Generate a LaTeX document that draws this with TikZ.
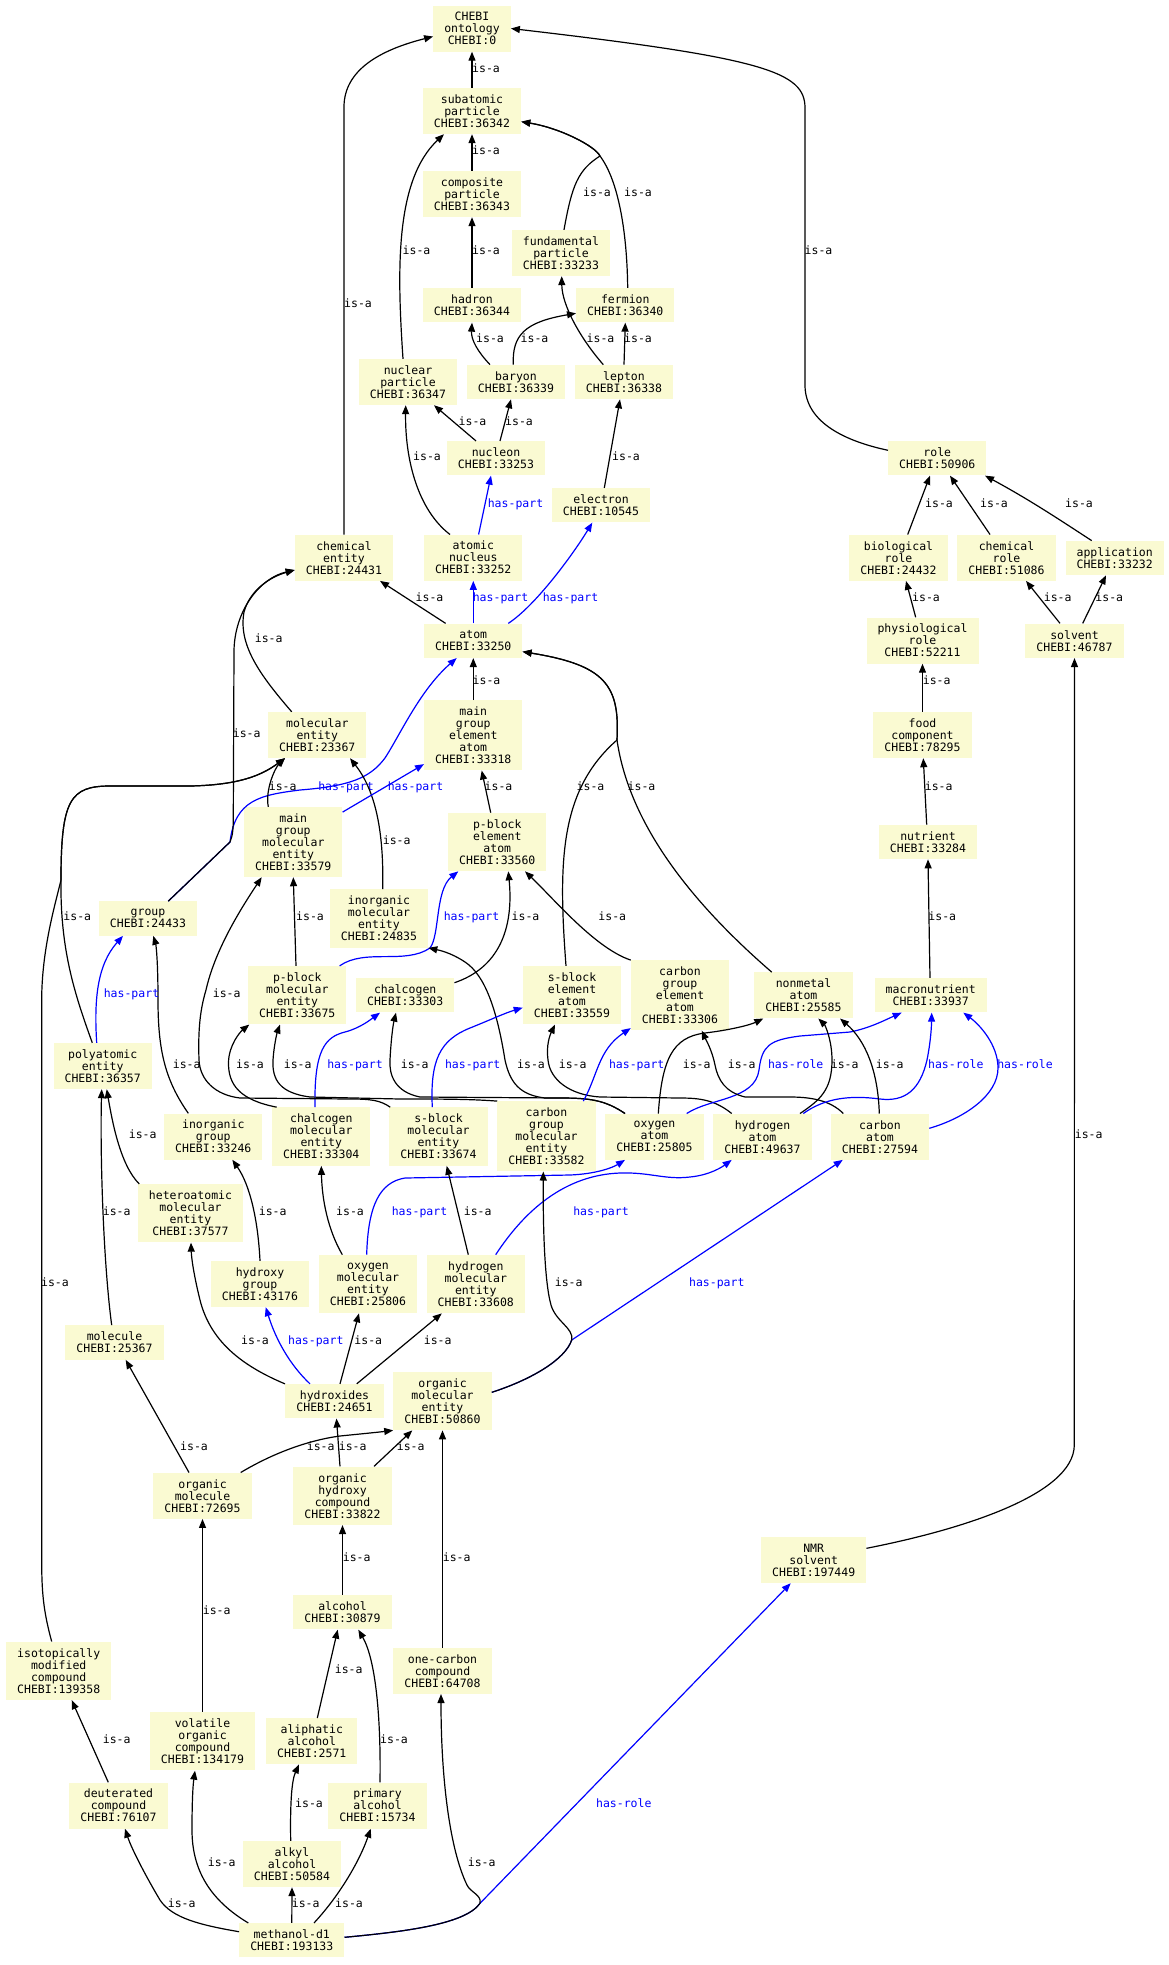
\documentclass[tikz,border=0pt]{standalone}
\usepackage{fontspec}
\usepackage{tikz}
\usetikzlibrary{arrows.meta}
\newfontfamily\chebifont{DejaVu Sans Mono}
\definecolor{termfill}{HTML}{FAFAD2}

\begin{document}
\begin{tikzpicture}[x=1pt,y=-1pt,
  term/.style={fill=termfill, font=\chebifont\fontsize{11.5pt}{12pt}\selectfont, align=center, inner xsep=11pt, inner ysep=0pt, minimum height=#1},
  isa/.style={draw=black, line width=1.2pt, -{Triangle[length=9pt,width=7pt]}},
  haspart/.style={isa, draw=blue, blue},
  lbl/.style={font=\chebifont\fontsize{11.5pt}{12pt}\selectfont, inner sep=0pt, text height=8pt, text depth=2pt}]
\useasboundingbox (0,0) rectangle (1169,1965);

\node[term=46pt] (onto) at (472,28.5) {CHEBI\\ontology\\CHEBI:0};
\node[term=46pt] (subatomic) at (472,111) {subatomic\\particle\\CHEBI:36342};
\node[term=46pt] (composite) at (472,194) {composite\\particle\\CHEBI:36343};
\node[term=46pt] (fundamental) at (561,253) {fundamental\\particle\\CHEBI:33233};
\node[term=34.3pt] (hadron) at (472,305.3) {hadron\\CHEBI:36344};
\node[term=34.3pt] (fermion) at (625.3,305.3) {fermion\\CHEBI:36340};
\node[term=46pt] (nuclear) at (408,382) {nuclear\\particle\\CHEBI:36347};
\node[term=34.3pt] (baryon) at (516,382) {baryon\\CHEBI:36339};
\node[term=34.3pt] (lepton) at (624,382) {lepton\\CHEBI:36338};
\node[term=34.3pt] (nucleon) at (496,458.3) {nucleon\\CHEBI:33253};
\node[term=34.3pt] (electron) at (601,505.3) {electron\\CHEBI:10545};
\node[term=34.3pt] (role) at (937.3,458.3) {role\\CHEBI:50906};
\node[term=46pt] (chement) at (344,557.7) {chemical\\entity\\CHEBI:24431};
\node[term=46pt] (nucleus) at (473.3,557.7) {atomic\\nucleus\\CHEBI:33252};
\node[term=46pt] (biorole) at (898.5,557.7) {biological\\role\\CHEBI:24432};
\node[term=46pt] (chemrole) at (1006.5,557.7) {chemical\\role\\CHEBI:51086};
\node[term=34.3pt] (application) at (1114.7,558) {application\\CHEBI:33232};
\node[term=34.3pt] (atom) at (473.3,640.7) {atom\\CHEBI:33250};
\node[term=46pt] (physrole) at (922.5,640.5) {physiological\\role\\CHEBI:52211};
\node[term=34.3pt] (solvent) at (1074.5,640.7) {solvent\\CHEBI:46787};
\node[term=46pt] (molent) at (317.3,735) {molecular\\entity\\CHEBI:23367};
\node[term=70pt] (mgea) at (473.3,735.3) {main\\group\\element\\atom\\CHEBI:33318};
\node[term=46pt] (food) at (922.5,735) {food\\component\\CHEBI:78295};
\node[term=70pt] (mgme) at (293.3,842) {main\\group\\molecular\\entity\\CHEBI:33579};
\node[term=58.3pt] (pbea) at (497.3,842) {p-block\\element\\atom\\CHEBI:33560};
\node[term=34.3pt] (nutrient) at (928,842) {nutrient\\CHEBI:33284};
\node[term=34.3pt] (group) at (148,918.5) {group\\CHEBI:24433};
\node[term=58.3pt] (inorgme) at (379,918.5) {inorganic\\molecular\\entity\\CHEBI:24835};
\node[term=58.3pt] (pbme) at (297.3,995.2) {p-block\\molecular\\entity\\CHEBI:33675};
\node[term=34.3pt] (chalcogen) at (405.2,995.3) {chalcogen\\CHEBI:33303};
\node[term=58.3pt] (sbea) at (572,995.2) {s-block\\element\\atom\\CHEBI:33559};
\node[term=70pt] (cgea) at (680,995.3) {carbon\\group\\element\\atom\\CHEBI:33306};
\node[term=46pt] (nonmetal) at (803.5,995.3) {nonmetal\\atom\\CHEBI:25585};
\node[term=34.3pt] (macro) at (930.7,995.3) {macronutrient\\CHEBI:33937};
\node[term=46pt] (polyatomic) at (102.7,1066) {polyatomic\\entity\\CHEBI:36357};
\node[term=46pt] (inorggroup) at (213.3,1136.5) {inorganic\\group\\CHEBI:33246};
\node[term=58.3pt] (chalcme) at (321.3,1136.5) {chalcogen\\molecular\\entity\\CHEBI:33304};
\node[term=58.3pt] (sbme) at (438.5,1136.5) {s-block\\molecular\\entity\\CHEBI:33674};
\node[term=70pt] (cgme) at (546.5,1136.3) {carbon\\group\\molecular\\entity\\CHEBI:33582};
\node[term=46pt] (oxatom) at (654.5,1136.7) {oxygen\\atom\\CHEBI:25805};
\node[term=46pt] (hatom) at (762.5,1136.7) {hydrogen\\atom\\CHEBI:49637};
\node[term=46pt] (catom) at (880,1136.7) {carbon\\atom\\CHEBI:27594};
\node[term=58.3pt] (hetero) at (190.5,1213.3) {heteroatomic\\molecular\\entity\\CHEBI:37577};
\node[term=46pt] (hydroxy) at (260,1284) {hydroxy\\group\\CHEBI:43176};
\node[term=58.3pt] (oxme) at (368,1284) {oxygen\\molecular\\entity\\CHEBI:25806};
\node[term=58.3pt] (hme) at (475.8,1284) {hydrogen\\molecular\\entity\\CHEBI:33608};
\node[term=34.3pt] (molecule) at (114.5,1342.5) {molecule\\CHEBI:25367};
\node[term=34.3pt] (hydroxides) at (334.5,1401.2) {hydroxides\\CHEBI:24651};
\node[term=58.3pt] (orgme) at (442.5,1401) {organic\\molecular\\entity\\CHEBI:50860};
\node[term=46pt] (orgmol) at (202.5,1495.7) {organic\\molecule\\CHEBI:72695};
\node[term=58.3pt] (ohc) at (342.5,1495.7) {organic\\hydroxy\\compound\\CHEBI:33822};
\node[term=46pt] (nmr) at (813.7,1560) {NMR\\solvent\\CHEBI:197449};
\node[term=34.3pt] (alcohol) at (342.5,1612.3) {alcohol\\CHEBI:30879};
\node[term=58.3pt] (isotopic) at (58.7,1670.8) {isotopically\\modified\\compound\\CHEBI:139358};
\node[term=46pt] (onecarbon) at (442.5,1670.8) {one-carbon\\compound\\CHEBI:64708};
\node[term=58.3pt] (voc) at (202.5,1741.3) {volatile\\organic\\compound\\CHEBI:134179};
\node[term=46pt] (aliphatic) at (311.8,1741.2) {aliphatic\\alcohol\\CHEBI:2571};
\node[term=46pt] (deuterated) at (118.5,1805.5) {deuterated\\compound\\CHEBI:76107};
\node[term=46pt] (primary) at (377.5,1805.5) {primary\\alcohol\\CHEBI:15734};
\node[term=46pt] (alkyl) at (292,1864) {alkyl\\alcohol\\CHEBI:50584};
\node[term=34.3pt] (methanol) at (291.8,1940.3) {methanol-d1\\CHEBI:193133};

\draw[isa] (subatomic.north) -- (onto.south) node[lbl] at (486,69) {is-a};
\draw[isa] (chement.north) -- (344,107) .. controls (344,70) and (380,50) .. ([yshift=-8pt]onto.west) node[lbl] at (358,304) {is-a};
\draw[isa] ([yshift=8pt]role.west) .. controls (840,440) and (805,420) .. (805,385) -- (805,108) .. controls (805,72) and (765,58) .. (onto.east) node[lbl] at (818.5,251) {is-a};
\draw[isa] (composite.north) -- (subatomic.south) node[lbl] at (486,151) {is-a};
\draw[isa] ([xshift=-5pt]nuclear.north) .. controls (397,270) and (395,180) .. ([xshift=-28pt]subatomic.south) node[lbl] at (416.5,251) {is-a};
\draw[isa] ([xshift=3pt]fundamental.north) .. controls (572,185) and (578,170) .. (600,156) .. controls (595,146) and (560,128) .. ([yshift=-10.7pt]subatomic.east) node[lbl] at (597,193) {is-a};
\draw[isa] ([xshift=2.4pt]fermion.north) .. controls (627,230) and (618,180) .. (600,156) .. controls (595,146) and (560,128) .. ([yshift=-10.7pt]subatomic.east) node[lbl] at (638,193) {is-a};
\draw[isa] (hadron.north) -- (composite.south) node[lbl] at (486,251) {is-a};
\draw[isa] ([xshift=-26pt]baryon.north) .. controls (478,352) and (471,340) .. (hadron.south) node[lbl] at (490,339) {is-a};
\draw[isa] ([xshift=-2.7pt]baryon.north) .. controls (512,335) and (525,322) .. ([yshift=-8pt]fermion.west) node[lbl] at (534.5,339) {is-a};
\draw[isa] ([xshift=-20.7pt]lepton.north) .. controls (580,338) and (562,305) .. ([xshift=0.7pt]fundamental.south) node[lbl] at (600.5,339) {is-a};
\draw[isa] (lepton.north) -- (fermion.south) node[lbl] at (638,339) {is-a};
\draw[isa] ([xshift=-20pt]nucleon.north) -- ([xshift=26pt]nuclear.south) node[lbl] at (472.5,422) {is-a};
\draw[isa] ([xshift=4pt]nucleon.north) -- ([xshift=-5pt]baryon.south) node[lbl] at (519,422) {is-a};
\draw[isa] ([xshift=3.3pt]electron.north) -- ([xshift=-4pt]lepton.south) node[lbl] at (626,457) {is-a};
\draw[isa] ([xshift=-23.3pt]nucleus.north) .. controls (418,510) and (405,460) .. ([xshift=-2.3pt]nuclear.south) node[lbl] at (427,457) {is-a};
\draw[haspart] ([xshift=5.3pt]nucleus.north) -- ([xshift=-5pt]nucleon.south) node[lbl] at (515.5,504) {has-part};
\draw[isa] ([xshift=-27.7pt]atom.north) -- ([xshift=36pt]chement.south) node[lbl] at (429.5,598) {is-a};
\draw[haspart] (atom.north) -- (nucleus.south) node[lbl] at (500.5,598) {has-part};
\draw[haspart] ([xshift=35pt]atom.north) .. controls (535,606) and (572,556) .. ([xshift=-8.7pt]electron.south) node[lbl] at (570.5,598) {has-part};
\draw[isa] (mgea.north) -- (atom.south) node[lbl] at (486.5,681) {is-a};
\draw[isa] ([xshift=-6.6pt]pbea.north) -- ([xshift=8.4pt]mgea.south) node[lbl] at (498.5,787) {is-a};
\draw[isa] ([xshift=-6pt]sbea.north) .. controls (558,860) and (560,790) .. (617,740) .. controls (620,685) and (605,665) .. ([yshift=-11pt]atom.east) node[lbl] at (590.5,787) {is-a};
\draw[isa] ([xshift=-31.8pt]nonmetal.north) .. controls (700,910) and (630,830) .. (617,740) .. controls (620,685) and (605,665) .. ([yshift=-11pt]atom.east) node[lbl] at (641.5,787) {is-a};
\draw[isa] ([xshift=-25.6pt]molent.north) .. controls (260,675) and (238,645) .. (244,612) .. controls (250,590) and (270,577) .. ([yshift=-12.3pt]chement.west) node[lbl] at (268.7,639) {is-a};
\draw[haspart] ([xshift=20.3pt]group.north) -- (230,842) .. controls (235,800) and (260,795) .. (300,790) .. controls (350,786) and (370,778) .. (385,758) .. controls (400,735) and (420,690) .. ([xshift=-16.6pt]atom.south) node[lbl] at (346,787) {has-part};
\draw[isa] ([xshift=20.3pt]group.north) -- (230,842) .. controls (233,835) and (233.3,828) .. (233.3,815) -- (234,650) .. controls (235,610) and (260,578) .. ([yshift=-12.3pt]chement.west) node[lbl] at (246.7,734) {is-a};
\draw[isa] ([xshift=-25pt]mgme.north) .. controls (265,790) and (275,768) .. ([xshift=-32.3pt]molent.south) node[lbl] at (282.7,787) {is-a};
\draw[isa] ([xshift=-10.4pt]polyatomic.north) .. controls (75,995) and (60,950) .. (61,880) .. controls (61,800) and (70,786) .. (110,786) -- (190,786) .. controls (240,785) and (262,775) .. ([xshift=-32.3pt]molent.south) node[lbl] at (77.3,917) {is-a};
\draw[isa] ([xshift=-7pt]isotopic.north) .. controls (43,1610) and (41.7,1590) .. (41.7,1560) -- (41.7,1000) .. controls (41.7,950) and (55,905) .. (61,880) .. controls (61,800) and (70,786) .. (110,786) -- (190,786) .. controls (240,785) and (262,775) .. ([xshift=-32.3pt]molent.south) node[lbl] at (55,1283) {is-a};
\draw[isa] ([xshift=3.7pt]inorgme.north) .. controls (384,830) and (375,790) .. ([xshift=32.7pt]molent.south) node[lbl] at (396.7,841) {is-a};
\draw[haspart] ([yshift=-5.3pt]mgme.north east) -- ([yshift=6.4pt]mgea.south west) node[lbl] at (415.5,787) {has-part};
\draw[isa] ([xshift=-1.3pt]pbme.north) -- (mgme.south) node[lbl] at (310,917) {is-a};
\draw[haspart] ([xshift=-7pt]pbme.north east) .. controls (365,948) and (405,965) .. (430,948) .. controls (440,935) and (435,890) .. ([xshift=-39pt]pbea.south) node[lbl] at (471.5,917) {has-part};
\draw[isa] ([yshift=12.6pt]chalcogen.east) .. controls (498,968) and (514,930) .. ([xshift=11pt]pbea.south) node[lbl] at (525.5,917) {is-a};
\draw[isa] (cgea.north west) .. controls (595,948) and (555,900) .. ([xshift=27.7pt]pbea.south) node[lbl] at (612.3,917) {is-a};
\draw[isa] ([xshift=-25pt]inorggroup.north) .. controls (165,1080) and (158,1050) .. (158,1000) .. controls (158,960) and (156,945) .. ([xshift=5.3pt]group.south) node[lbl] at (186.7,1065) {is-a};
\draw[isa] ([xshift=-51.2pt]hetero.north) .. controls (120,1165) and (112,1120) .. ([xshift=4pt]polyatomic.south) node[lbl] at (142.7,1135) {is-a};
\draw[isa] ([xshift=-2.8pt]molecule.north) .. controls (103,1260) and (100,1150) .. ([xshift=-1pt]polyatomic.south) node[lbl] at (116.7,1212) {is-a};
\draw[haspart] ([xshift=-6pt]polyatomic.north) .. controls (94,1000) and (97,965) .. ([xshift=-25pt]group.south) node[lbl] at (131.5,994) {has-part};
\draw[isa] ([xshift=-44.6pt]chalcme.north) .. controls (240,1100) and (228,1085) .. (228.5,1062) .. controls (229,1045) and (240,1032) .. ([xshift=-48pt]pbme.south) node[lbl] at (250,1065) {is-a};
\draw[haspart] ([xshift=-6.3pt]chalcme.north) .. controls (314,1050) and (325,1037) .. (345,1032) .. controls (360,1028) and (370,1020) .. ([xshift=-25.2pt]chalcogen.south) node[lbl] at (355,1065) {has-part};
\draw[isa] (cgme.north west) .. controls (470,1099) and (440,1099) .. (400,1099) -- (310,1097) .. controls (280,1093) and (272,1080) .. (273,1060) .. controls (274,1045) and (277,1033) .. ([xshift=-17.3pt]pbme.south) node[lbl] at (297.7,1065) {is-a};
\draw[isa] ([xshift=1pt]sbme.north west) .. controls (380,1100) and (370,1099) .. (350,1099) -- (240,1098) .. controls (215,1095) and (200,1080) .. (199,1060) .. controls (198,1030) and (200,1010) .. (206,990) .. controls (215,950) and (240,910) .. ([xshift=-31.6pt]mgme.south) node[lbl] at (226.7,994) {is-a};
\draw[isa] ([xshift=-29.5pt]oxatom.north) .. controls (605,1100) and (590,1098) .. (560,1098) -- (420,1097) .. controls (395,1092) and (389,1075) .. (390,1060) .. controls (391,1040) and (393,1025) .. ([xshift=-9.2pt]chalcogen.south) node[lbl] at (414.7,1065) {is-a};
\draw[isa] ([xshift=-29.5pt]oxatom.north) .. controls (605,1100) and (590,1098) .. (560,1098) -- (545,1098) .. controls (520,1095) and (510,1083) .. (505,1060) .. controls (497,1010) and (485,975) .. (465,962) .. controls (450,952) and (438,950) .. (inorgme.south east) node[lbl] at (531,1065) {is-a};
\draw[haspart] ([xshift=-6.2pt]sbme.north) .. controls (430,1060) and (440,1040) .. (470,1028) .. controls (490,1020) and (505,1013) .. ([yshift=-12.5pt]sbea.west) node[lbl] at (472.7,1065) {has-part};
\draw[isa] ([xshift=-30.8pt]hatom.north) .. controls (715,1100) and (700,1098) .. (680,1098) -- (600,1097) .. controls (570,1095) and (550,1080) .. (548,1060) .. controls (546,1045) and (550,1035) .. ([xshift=-17pt]sbea.south) node[lbl] at (572.7,1065) {is-a};
\draw[haspart] ([xshift=36.8pt]cgme.north) .. controls (598,1075) and (598,1050) .. ([yshift=2.4pt]cgea.south west) node[lbl] at (636.7,1065) {has-part};
\draw[isa] ([xshift=3.8pt]oxatom.north) .. controls (662,1060) and (672,1037) .. (705,1033) .. controls (730,1030) and (750,1025) .. ([xshift=-40.2pt]nonmetal.south) node[lbl] at (696.7,1065) {is-a};
\draw[haspart] ([xshift=32.2pt]oxatom.north) .. controls (710,1098) and (755,1100) .. (759,1070) .. controls (762,1045) and (770,1040) .. (800,1036) -- (850,1032) .. controls (870,1028) and (885,1020) .. ([xshift=-29pt]macro.south) node[lbl] at (795.7,1065) {has-role};
\draw[isa] ([xshift=-36.7pt]catom.north) .. controls (830,1100) and (810,1097) .. (790,1097) -- (745,1097) .. controls (725,1092) and (718,1080) .. (715,1065) .. controls (712,1050) and (706,1040) .. ([xshift=21.7pt]cgea.south) node[lbl] at (741.7,1065) {is-a};
\draw[isa] ([xshift=37.5pt]hatom.north) .. controls (820,1100) and (832,1090) .. (832,1060) .. controls (832,1040) and (825,1025) .. ([xshift=14.8pt]nonmetal.south) node[lbl] at (844.7,1065) {is-a};
\draw[haspart] ([xshift=40.8pt]hatom.north) .. controls (825,1098) and (850,1095) .. (880,1099) .. controls (905,1102) and (920,1090) .. (927,1060) .. controls (931,1040) and (931.5,1025) .. ([xshift=1pt]macro.south) node[lbl] at (955.8,1065) {has-role};
\draw[isa] ([xshift=-0.7pt]catom.north) .. controls (878,1070) and (865,1040) .. ([xshift=36.5pt]nonmetal.south) node[lbl] at (889.7,1065) {is-a};
\draw[haspart] ([yshift=8.4pt]catom.east) .. controls (965,1118) and (998,1095) .. (998,1068) .. controls (998,1045) and (980,1025) .. ([xshift=32.6pt]macro.south) node[lbl] at (1025,1065) {has-role};
\draw[isa] ([xshift=-25.7pt]oxme.north) .. controls (328,1230) and (322,1200) .. (chalcme.south) node[lbl] at (350,1212) {is-a};
\draw[haspart] ([xshift=-1.3pt]oxme.north) .. controls (368,1205) and (380,1182) .. (405,1178) -- (570,1175) .. controls (595,1174) and (612,1168) .. ([xshift=-29.5pt]oxatom.south) node[lbl] at (419.5,1212) {has-part};
\draw[isa] ([xshift=-7.5pt]hme.north) -- ([xshift=8.2pt]sbme.south) node[lbl] at (477.7,1212) {is-a};
\draw[haspart] ([xshift=19.9pt]hme.north) .. controls (525,1210) and (565,1175) .. (620,1173) .. controls (650,1172) and (665,1180) .. (690,1177) .. controls (710,1175) and (722,1167) .. ([xshift=-30.8pt]hatom.south) node[lbl] at (601,1212) {has-part};
\draw[haspart] ([yshift=8.7pt]orgme.east) .. controls (530,1380) and (565,1360) .. (571.7,1340) -- ([xshift=-37.3pt]catom.south) node[lbl] at (716.8,1283) {has-part};
\draw[isa] ([yshift=8.7pt]orgme.east) .. controls (530,1380) and (565,1360) .. (571.7,1340) .. controls (574,1328) and (556,1322) .. (551,1305) .. controls (544,1280) and (543,1220) .. ([xshift=-3.2pt]cgme.south) node[lbl] at (568.7,1283) {is-a};
\draw[isa] ([xshift=-49.5pt]hydroxides.north) .. controls (240,1365) and (210,1340) .. (200,1300) .. controls (195,1280) and (191.5,1260) .. ([xshift=0.5pt]hetero.south) node[lbl] at (255,1341) {is-a};
\draw[haspart] ([xshift=-24.5pt]hydroxides.north) .. controls (290,1365) and (276,1340) .. ([xshift=5.7pt]hydroxy.south) node[lbl] at (315.8,1341) {has-part};
\draw[isa] ([xshift=5.5pt]hydroxides.north) -- ([xshift=-9pt]oxme.south) node[lbl] at (368.3,1341) {is-a};
\draw[isa] ([xshift=22.2pt]hydroxides.north) -- ([xshift=-34pt]hme.south) node[lbl] at (437.7,1341) {is-a};
\draw[isa] (hydroxy.north) .. controls (258,1220) and (250,1185) .. ([xshift=19pt]inorggroup.south) node[lbl] at (272.7,1212) {is-a};
\draw[isa] ([xshift=-13.5pt]orgmol.north) -- ([xshift=11.2pt]molecule.south) node[lbl] at (194,1447) {is-a};
\draw[isa] ([xshift=38.2pt]orgmol.north) .. controls (275,1452) and (310,1440) .. (340,1436) .. controls (360,1434) and (380,1432) .. (orgme.south west) node[lbl] at (320.7,1447) {is-a};
\draw[isa] ([xshift=-2.5pt]ohc.north) -- ([xshift=2pt]hydroxides.south) node[lbl] at (352.7,1447) {is-a};
\draw[isa] ([xshift=31.5pt]ohc.north) -- ([xshift=-30.2pt]orgme.south) node[lbl] at (410.7,1447) {is-a};
\draw[isa] (alcohol.north) -- (ohc.south) node[lbl] at (356.7,1558.3) {is-a};
\draw[isa] (onecarbon.north) -- (orgme.south) node[lbl] at (456.7,1558.3) {is-a};
\draw[isa] (voc.north) -- (orgmol.south) node[lbl] at (216.7,1611.7) {is-a};
\draw[isa] ([xshift=5.5pt]aliphatic.north) -- ([xshift=-4.8pt]alcohol.south) node[lbl] at (348.7,1670) {is-a};
\draw[isa] ([xshift=2.5pt]primary.north) .. controls (381,1720) and (376,1660) .. ([xshift=15.8pt]alcohol.south) node[lbl] at (394,1740) {is-a};
\draw[isa] ([xshift=-10.2pt]deuterated.north) -- ([xshift=13pt]isotopic.south) node[lbl] at (116.7,1740) {is-a};
\draw[isa] ([xshift=-1.3pt]alkyl.north) .. controls (290,1800) and (292,1780) .. ([xshift=-12.8pt]aliphatic.south) node[lbl] at (309,1804.3) {is-a};
\draw[isa] ([yshift=8.6pt]methanol.west) .. controls (200,1925) and (172,1918) .. (160,1900) .. controls (148,1880) and (132,1850) .. ([xshift=6.5pt]deuterated.south) node[lbl] at (181.7,1904) {is-a};
\draw[isa] ([xshift=-43.5pt]methanol.north) .. controls (210,1900) and (192,1870) .. (192,1830) .. controls (192,1800) and (193,1785) .. ([xshift=-7.5pt]voc.south) node[lbl] at (221.7,1863.3) {is-a};
\draw[isa] (methanol.north) -- (alkyl.south) node[lbl] at (305.7,1904) {is-a};
\draw[isa] ([xshift=22.2pt]methanol.north) .. controls (340,1895) and (360,1860) .. ([xshift=-6.8pt]primary.south) node[lbl] at (349,1904) {is-a};
\draw[haspart] ([yshift=3pt]methanol.east) .. controls (400,1932) and (465,1925) .. (480,1903.3) -- ([xshift=-23pt]nmr.south) node[lbl] at (623.8,1804.3) {has-role};
\draw[isa] ([yshift=3pt]methanol.east) .. controls (400,1932) and (465,1925) .. (480,1903.3) .. controls (482,1895) and (470,1892) .. (467,1885) .. controls (450,1850) and (441,1780) .. ([xshift=-1.5pt]onecarbon.south) node[lbl] at (481.7,1863.3) {is-a};
\draw[isa] ([yshift=11.7pt]nmr.east) .. controls (960,1530) and (1074,1495) .. (1074.3,1445) -- (solvent.south) node[lbl] at (1088.7,1135) {is-a};
\draw[isa] ([xshift=-14.5pt]solvent.north) -- ([xshift=19.5pt]chemrole.south) node[lbl] at (1057.7,598.3) {is-a};
\draw[isa] ([xshift=8.2pt]solvent.north) -- ([xshift=-8.7pt]application.south) node[lbl] at (1109.3,598.3) {is-a};
\draw[isa] ([xshift=9.2pt]biorole.north) -- ([xshift=-7.3pt]role.south) node[lbl] at (939,504) {is-a};
\draw[isa] ([xshift=-16.5pt]chemrole.north) -- ([xshift=12.7pt]role.south) node[lbl] at (994,504) {is-a};
\draw[isa] ([xshift=-23pt]application.north) .. controls (1060,520) and (1030,500) .. ([xshift=47.7pt]role.south) node[lbl] at (1079,504) {is-a};
\draw[isa] ([xshift=-6.8pt]physrole.north) -- ([xshift=7.5pt]biorole.south) node[lbl] at (926,598.3) {is-a};
\draw[isa] (food.north) -- (physrole.south) node[lbl] at (936.7,681.3) {is-a};
\draw[isa] ([xshift=-1.3pt]nutrient.north) -- ([xshift=0.8pt]food.south) node[lbl] at (938.7,787.3) {is-a};
\draw[isa] ([xshift=-0.7pt]macro.north) -- (nutrient.south) node[lbl] at (942.3,917.3) {is-a};
\end{tikzpicture}
\end{document}
